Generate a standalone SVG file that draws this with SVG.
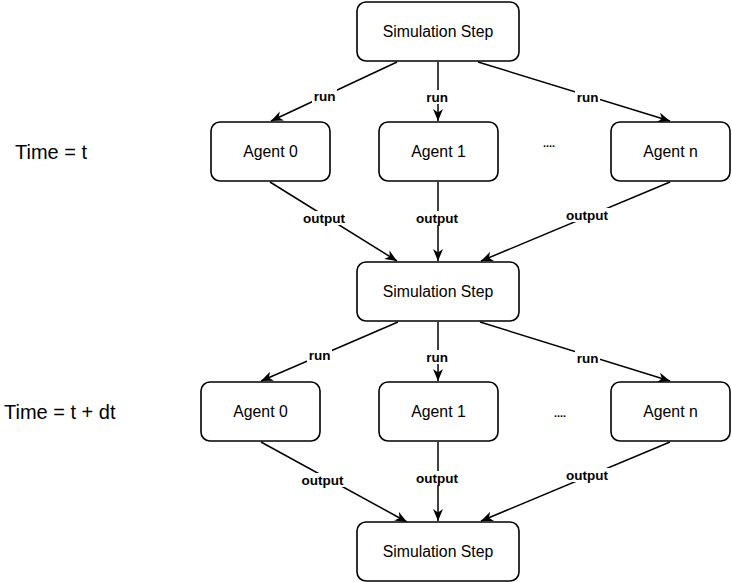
<svg xmlns="http://www.w3.org/2000/svg" width="732" height="582" viewBox="0 0 732 582">
  <style>
    .box { fill: #ffffff; stroke: #000000; stroke-width: 1.6; }
    .node-text { font-family: "Liberation Sans", Arial, sans-serif; font-size: 15.8px; fill: #000000; text-anchor: middle; }
    .time-text { font-family: "Liberation Sans", Arial, sans-serif; font-size: 20px; fill: #000000; }
    .edge { fill: none; stroke: #000000; stroke-width: 1.5; marker-end: url(#arrow); }
    .label-bg { fill: #ffffff; }
    .label { font-family: "Liberation Sans", Arial, sans-serif; font-size: 13.5px; font-weight: bold; fill: #000000; text-anchor: middle; }
  </style>
  <defs>
    <marker id="arrow" markerUnits="userSpaceOnUse" viewBox="0 0 12 10" markerWidth="12" markerHeight="10" refX="12" refY="5" orient="auto">
      <path d="M0,0 L12,5 L0,10 L3.5,5 Z" fill="#000000"/>
    </marker>
  </defs>

  <rect width="732" height="582" fill="#ffffff"/>

  <!-- time labels -->
  <text class="time-text" x="15" y="159">Time = t</text>
  <text class="time-text" x="4" y="419">Time = t + dt</text>

  <!-- connectors -->
  <g id="connectors">
    <line class="edge" x1="397" y1="62" x2="271" y2="121"/>
    <line class="edge" x1="438" y1="62" x2="438" y2="121"/>
    <line class="edge" x1="478" y1="62" x2="670" y2="121"/>

    <line class="edge" x1="270" y1="182" x2="397" y2="261"/>
    <line class="edge" x1="438" y1="182" x2="438" y2="261"/>
    <line class="edge" x1="670" y1="182" x2="481" y2="261"/>

    <line class="edge" x1="398" y1="322" x2="261" y2="381"/>
    <line class="edge" x1="438" y1="322" x2="438" y2="381"/>
    <line class="edge" x1="480" y1="322" x2="670" y2="381"/>

    <line class="edge" x1="261" y1="442" x2="407" y2="522"/>
    <line class="edge" x1="438" y1="442" x2="438" y2="521"/>
    <line class="edge" x1="670" y1="442" x2="481" y2="521"/>

    <!-- edge labels -->
    <g>
      <rect class="label-bg" x="312" y="89" width="25" height="14"/><text class="label" x="324.5" y="101">run</text>
      <rect class="label-bg" x="425" y="90" width="25" height="14"/><text class="label" x="437" y="102">run</text>
      <rect class="label-bg" x="575" y="90" width="25" height="14"/><text class="label" x="587.5" y="102">run</text>

      <rect class="label-bg" x="301" y="211" width="46" height="14"/><text class="label" x="324" y="223">output</text>
      <rect class="label-bg" x="414" y="211" width="46" height="14"/><text class="label" x="437" y="223">output</text>
      <rect class="label-bg" x="564" y="208" width="46" height="14"/><text class="label" x="587" y="220">output</text>

      <rect class="label-bg" x="307" y="348" width="25" height="14"/><text class="label" x="319.5" y="360">run</text>
      <rect class="label-bg" x="425" y="350" width="25" height="14"/><text class="label" x="437" y="362">run</text>
      <rect class="label-bg" x="575" y="351" width="25" height="14"/><text class="label" x="587.5" y="363">run</text>

      <rect class="label-bg" x="299" y="473" width="46" height="14"/><text class="label" x="322.5" y="485">output</text>
      <rect class="label-bg" x="414" y="471" width="46" height="14"/><text class="label" x="437" y="483">output</text>
      <rect class="label-bg" x="564" y="468" width="46" height="14"/><text class="label" x="587" y="480">output</text>
    </g>
  </g>

  <!-- ellipsis markers between agents -->
  <text class="label" x="549" y="147" style="font-size:11px">....</text>
  <text class="label" x="560" y="417" style="font-size:11px">....</text>

  <!-- time t -->
  <g id="sim-step-1">
    <rect class="box" x="357" y="2" width="162" height="59" rx="9"/>
    <text class="node-text" x="438" y="37">Simulation Step</text>
  </g>
  <g id="agent-0-t">
    <rect class="box" x="211" y="122" width="119" height="59" rx="9"/>
    <text class="node-text" x="270.5" y="157">Agent 0</text>
  </g>
  <g id="agent-1-t">
    <rect class="box" x="379" y="122" width="119" height="59" rx="9"/>
    <text class="node-text" x="438.5" y="157">Agent 1</text>
  </g>
  <g id="agent-n-t">
    <rect class="box" x="611" y="122" width="119" height="59" rx="9"/>
    <text class="node-text" x="670.5" y="157">Agent n</text>
  </g>
  <g id="sim-step-2">
    <rect class="box" x="357" y="262" width="162" height="59" rx="9"/>
    <text class="node-text" x="438" y="297">Simulation Step</text>
  </g>

  <!-- time t + dt -->
  <g id="agent-0-tdt">
    <rect class="box" x="201" y="382" width="119" height="59" rx="9"/>
    <text class="node-text" x="260.5" y="417">Agent 0</text>
  </g>
  <g id="agent-1-tdt">
    <rect class="box" x="379" y="382" width="119" height="59" rx="9"/>
    <text class="node-text" x="438.5" y="417">Agent 1</text>
  </g>
  <g id="agent-n-tdt">
    <rect class="box" x="611" y="382" width="119" height="59" rx="9"/>
    <text class="node-text" x="670.5" y="417">Agent n</text>
  </g>
  <g id="sim-step-3">
    <rect class="box" x="357" y="522" width="162" height="59" rx="9"/>
    <text class="node-text" x="438" y="557">Simulation Step</text>
  </g>
</svg>
